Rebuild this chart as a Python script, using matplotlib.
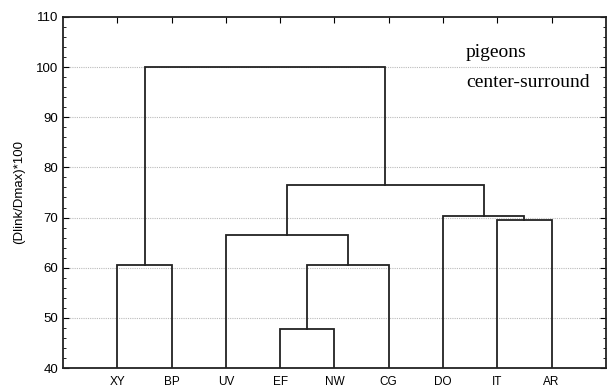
import matplotlib.pyplot as plt
from matplotlib.ticker import MultipleLocator

# leaf order and linkage heights of the tree
leaves = ['XY', 'BP', 'UV', 'EF', 'NW', 'CG', 'DO', 'IT', 'AR']
# (left node, right node, height); nodes 0-8 are leaves, 9+ are merges
merges = [
    (3, 4, 47.7),    # EF + NW
    (0, 1, 60.5),    # XY + BP
    (9, 5, 60.5),    # (EF,NW) + CG
    (2, 11, 66.5),   # UV + (EF,NW,CG)
    (7, 8, 69.5),    # IT + AR
    (6, 13, 70.3),   # DO + (IT,AR)
    (12, 14, 76.5),  # left + right branch
    (10, 15, 100.0), # (XY,BP) + rest
]

fig = plt.figure(figsize=(6.07, 3.92), dpi=100)
ax = fig.add_axes([0.104, 0.061, 0.894, 0.896])

x_of = {i: i + 1 for i in range(len(leaves))}
y_of = {i: 40.0 for i in range(len(leaves))}
for k, (a, b, h) in enumerate(merges):
    xa, xb = x_of[a], x_of[b]
    ax.plot([xa, xa, xb, xb], [y_of[a], h, h, y_of[b]],
            color='#222222', lw=1.3, solid_joinstyle='miter', zorder=3)
    node = len(leaves) + k
    x_of[node] = (xa + xb) / 2
    y_of[node] = h

ax.set_xlim(0, 10)
ax.set_ylim(40, 110)
ax.set_xticks(range(1, len(leaves) + 1))
ax.set_xticklabels(leaves, fontsize=8.5, family='Liberation Sans')
ax.set_yticks(range(40, 111, 10))
ax.yaxis.set_minor_locator(MultipleLocator(2))
ax.tick_params(axis='y', which='both', direction='in', left=True, right=True,
               labelsize=9.5, color='black')
ax.tick_params(axis='y', which='major', length=4)
ax.tick_params(axis='y', which='minor', length=2.5)
ax.tick_params(axis='x', direction='in', top=True, bottom=False, length=4,
               pad=6)
for lab in ax.get_yticklabels():
    lab.set_family('Liberation Sans')

for v in range(50, 101, 10):
    ax.axhline(v, color='#bbbbbb', lw=0.8, ls=(0, (1, 1)), zorder=1)

for s in ax.spines.values():
    s.set_linewidth(1.3)
    s.set_color('#222222')

ax.set_ylabel('(Dlink/Dmax)*100', fontsize=9.5, family='Liberation Sans')
ax.yaxis.set_label_coords(-0.07, 0.5)

ax.text(7.42, 102.8, 'pigeons', fontsize=14,
        family='Liberation Serif', va='center')
ax.text(7.42, 97.0, 'center-surround', fontsize=14,
        family='Liberation Serif', va='center')

fig.savefig('out.png', dpi=100)
